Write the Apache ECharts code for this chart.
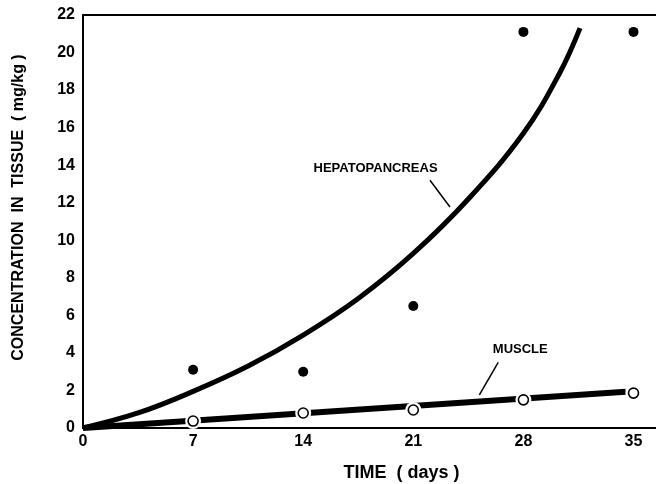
<!DOCTYPE html>
<html>
<head>
<meta charset="utf-8">
<script src="https://cdn.jsdelivr.net/npm/echarts@6/dist/echarts.min.js"></script>
<style>html,body{margin:0;padding:0;background:#fff;}#c{width:656px;height:484px;}</style>
</head>
<body>
<div id="c"></div>
<script>
const xTicks = [0, 7, 14, 21, 28, 35];
const days = [7, 14, 21, 28, 35];
const hepatoObserved = [3.1, 3.0, 6.5, 21.1, 21.1];
const muscleObserved = [0.37, 0.8, 0.96, 1.5, 1.86];
const hepatoCurveX = [0, 3.5, 7, 10.5, 14, 17.5, 21, 24.5, 28, 30.3, 31.6];
const hepatoCurveY = [0, 0.8, 1.95, 3.3, 4.95, 6.9, 9.3, 12.2, 15.7, 18.9, 21.3];
const muscleLineX = [0, 34.5];
const muscleLineY = [0, 1.93];

const FONT = 'Liberation Sans';
const pair = (xs, ys) => xs.map((x, i) => [x, ys[i]]);

const chart = echarts.init(document.getElementById('c'), null, {renderer: 'canvas'});
chart.setOption({
  animation: false,
  backgroundColor: '#fff',
  grid: {left: 83, right: 0, top: 15, bottom: 56, containLabel: false, outerBoundsMode: 'none'},
  xAxis: [{
    type: 'value', min: 0, max: 36.43, interval: 7,
    axisLine: {show: true, onZero: false, lineStyle: {color: '#000', width: 2}},
    axisTick: {show: false},
    splitLine: {show: false},
    axisLabel: {
      color: '#000', fontFamily: FONT, fontWeight: 'bold', fontSize: 16, margin: 6,
      formatter: v => (xTicks.indexOf(v) >= 0 ? String(v) : '')
    },
    name: 'TIME  ( days )', nameLocation: 'middle', nameGap: 36,
    nameTextStyle: {color: '#000', fontFamily: FONT, fontWeight: 'bold', fontSize: 18, padding: [0, 0, 0, 64]}
  }, {
    type: 'value', position: 'top', min: 0, max: 36.43,
    axisLine: {show: true, onZero: false, lineStyle: {color: '#000', width: 2}},
    axisTick: {show: false}, axisLabel: {show: false}, splitLine: {show: false}
  }],
  yAxis: {
    type: 'value', min: 0, max: 22, interval: 2,
    axisLine: {show: true, onZero: false, lineStyle: {color: '#000', width: 2}},
    axisTick: {show: false},
    splitLine: {show: false},
    axisLabel: {color: '#000', fontFamily: FONT, fontWeight: 'bold', fontSize: 16, margin: 8},
    name: 'CONCENTRATION  IN  TISSUE  ( mg/kg )', nameLocation: 'middle', nameGap: 56,
    nameTextStyle: {color: '#000', fontFamily: FONT, fontWeight: 'bold', fontSize: 16, padding: [0, 0, 0, 28]}
  },
  series: [
    {
      type: 'line', smooth: 0.4, data: pair(hepatoCurveX, hepatoCurveY),
      showSymbol: false, lineStyle: {color: '#000', width: 5}, z: 2,
      markPoint: {
        symbol: 'circle', symbolSize: 0,
        label: {show: true, color: '#000', fontFamily: FONT, fontWeight: 'bold', fontSize: 13, formatter: '{b}'},
        data: [{name: 'HEPATOPANCREAS', coord: [18.6, 13.85]}]
      },
      markLine: {
        silent: true, symbol: 'none', label: {show: false},
        lineStyle: {color: '#000', width: 1.5, type: 'solid'},
        data: [[{coord: [22.06, 13.2]}, {coord: [23.33, 11.77]}]]
      }
    },
    {
      type: 'line', data: pair(muscleLineX, muscleLineY),
      showSymbol: false, lineStyle: {color: '#000', width: 6}, z: 2,
      markPoint: {
        symbol: 'circle', symbolSize: 0,
        label: {show: true, color: '#000', fontFamily: FONT, fontWeight: 'bold', fontSize: 13, formatter: '{b}'},
        data: [{name: 'MUSCLE', coord: [27.8, 4.16]}]
      },
      markLine: {
        silent: true, symbol: 'none', label: {show: false},
        lineStyle: {color: '#000', width: 1.5, type: 'solid'},
        data: [[{coord: [26.4, 3.5]}, {coord: [25.2, 1.76]}]]
      }
    },
    {
      type: 'scatter', data: pair(days, hepatoObserved),
      symbol: 'circle', symbolSize: 10, itemStyle: {color: '#000', opacity: 1}, z: 3
    },
    {
      type: 'scatter', data: pair(days, muscleObserved),
      symbol: 'circle', symbolSize: 16, itemStyle: {color: '#fff', opacity: 1}, z: 3
    },
    {
      type: 'scatter', data: pair(days, muscleObserved),
      symbol: 'circle', symbolSize: 10,
      itemStyle: {color: '#fff', borderColor: '#000', borderWidth: 1.6, opacity: 1}, z: 4
    }
  ]
});
</script>
</body>
</html>
